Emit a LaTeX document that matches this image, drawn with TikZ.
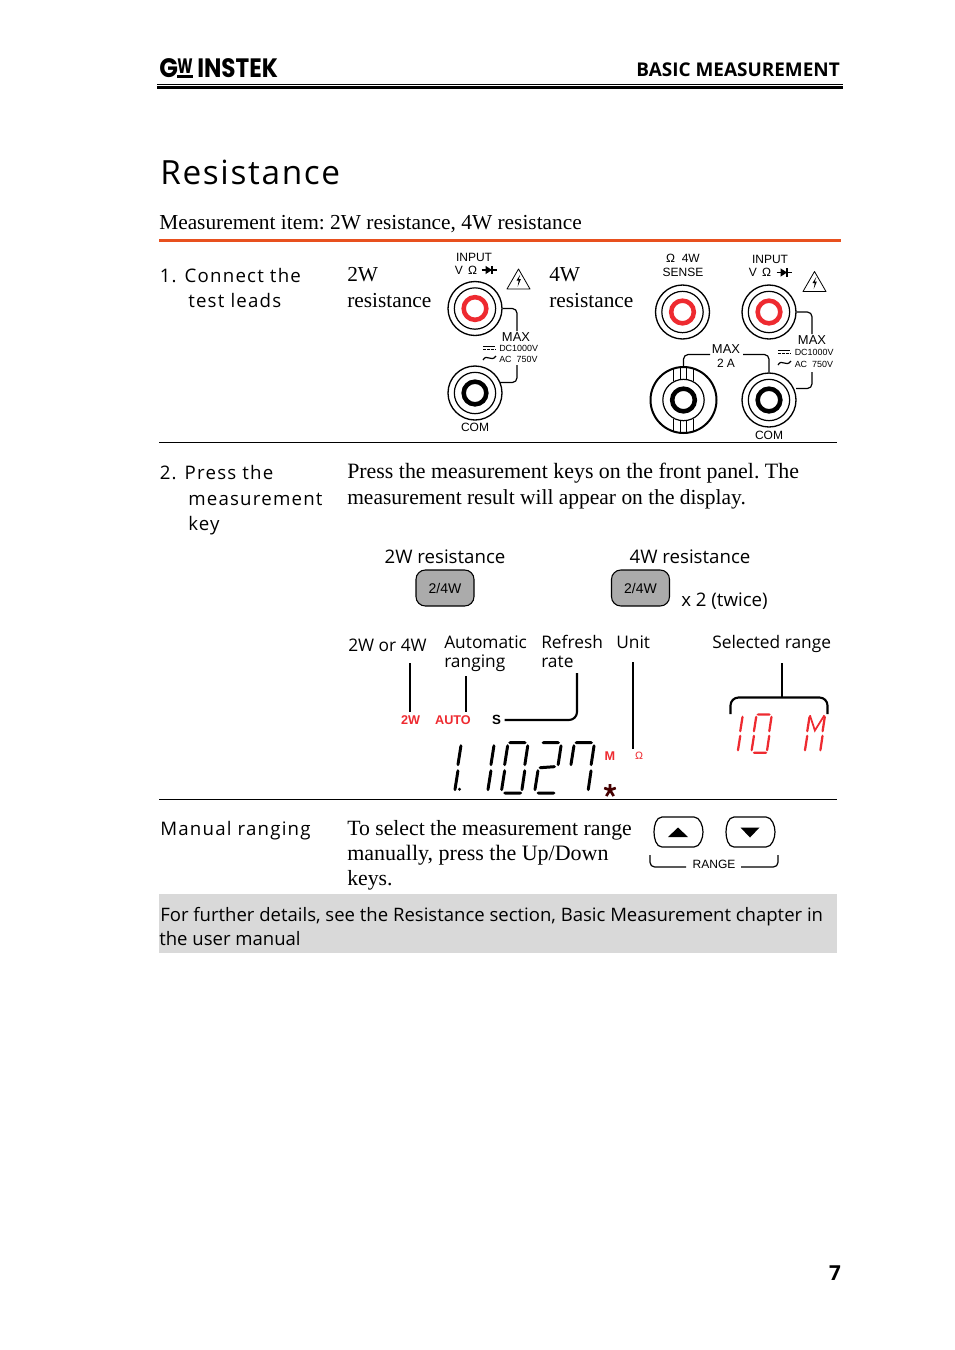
\documentclass[tikz,border=0pt]{standalone}
\usepackage{graphicx}
\usepackage{fontspec}
\setmainfont{Liberation Serif}
\newfontfamily\opn{Open Sans}
\newfontfamily\ari{Liberation Sans}
\newfontfamily\logofont{Poppins}
\usetikzlibrary{calc}
\definecolor{rule}{HTML}{E8501E}
\definecolor{termred}{HTML}{EE2A30}
\definecolor{lcdred}{HTML}{EE2A30}
\definecolor{keygrey}{HTML}{ABABAB}
\definecolor{band}{HTML}{D9D9D9}
\newcommand\vseg[4]{\fill[segfill] (#1,#2)--({#1+\segw},{#2+1.8})--({#3+\segw},{#4-1.8})--(#3,#4)--({#3-\segw},{#4-1.8})--({#1-\segw},{#2+1.8})--cycle;}
\newcommand\hseg[4]{\fill[segfill] (#1,#2)--({#1+1.8},{#2-\segw})--({#3-1.8},{#4-\segw})--(#3,#4)--({#3-1.8},{#4+\segw})--({#1+1.8},{#2+\segw})--cycle;}
\def\segw{1.5}
\newcommand\segA{\vseg{2.9}{-21.5}{0}{0.5}}
\newcommand\segB{\vseg{5.9}{-46.5}{3}{-24.5}}
\newcommand\segC{\hseg{6.5}{-48}{25}{-48}}
\newcommand\segD{\vseg{26}{-46.5}{23.2}{-24.5}}
\newcommand\segE{\vseg{23}{-21.5}{20.3}{0.5}}
\newcommand\segF{\hseg{1.5}{2.3}{20.5}{2.3}}
\newcommand\segG{\hseg{3.5}{-23}{21}{-24}}
\newcommand\warn[2]{\begin{scope}[shift={(#1,#2)}]
 \draw[line width=.6pt,line join=round] (0,-10.5)--(11.5,9.5)--(-11.5,9.5)--cycle;
 \fill (1.8,-5)--(-2,1)--(.2,1)--(-.8,7)--(2.4,-.5)--(.3,-.5)--cycle;
\end{scope}}
\newcommand\diode[2]{\begin{scope}[shift={(#1,#2)}]
 \draw[line width=.9pt] (-7.5,0)--(7.5,0) (3,-4.2)--(3,4.2);
 \fill (-3.5,-4.2)--(3,0)--(-3.5,4.2)--cycle;
\end{scope}}
\tikzset{
 x=.75pt,y=-.75pt,
 segfill/.style={fill=black},
 ser/.style={anchor=base west,inner sep=0pt,font=\frenchspacing\fontsize{#1}{18}\selectfont},
 ser/.default=16.3,
 hd/.style={anchor=base west,inner sep=0pt,font=\opn\fontsize{14}{18}\selectfont\addfontfeature{LetterSpace=6.5}},
 lab/.style={anchor=base west,inner sep=0pt,font=\opn\fontsize{13}{16}\selectfont},
 labb/.style={anchor=base west,inner sep=0pt,font=\opn\fontsize{14}{16}\selectfont},
 ar/.style={inner sep=0pt,font=\ari\fontsize{#1}{#1}\selectfont},
 ar/.default=9,
 term/.style={circle,draw,line width=1pt,minimum size=40.5pt,inner sep=0pt},
 termb/.style={circle,draw,line width=.9pt,minimum size=31pt,inner sep=0pt},
 termc/.style={circle,draw=#1,line width=3.4pt,minimum size=17pt,inner sep=0pt},
 wire/.style={line width=.9pt,rounded corners=3.5pt},
 call/.style={line width=1.6pt,rounded corners=6pt},
 key24/.style={draw,line width=.8pt,fill=keygrey,rounded corners=7pt,minimum width=43.5pt,minimum height=27pt,inner sep=0pt,font=\ari\fontsize{10.5}{12}\selectfont},
 annun/.style={inner sep=2.6pt,text=lcdred,font=\ari\bfseries\fontsize{9.5}{10}\selectfont},
}
\begin{document}
\begin{tikzpicture}
\useasboundingbox (0,0) rectangle (954,1350);
\fill[white] (0,0) rectangle (954,1350);

% header
\node[anchor=south west,inner sep=0pt] (logog) at (159,78) {\resizebox{14pt}{14.2pt}{\logofont\bfseries G}};
\node[anchor=south west,inner sep=0pt] (logow) at (177,74) {\resizebox{11.5pt}{11pt}{\logofont\bfseries W}};
\fill (177,75.2) rectangle (192.5,78);
\node[anchor=south west,inner sep=0pt] (logoi) at (197,78) {\resizebox{60.5pt}{14.2pt}{\logofont\bfseries INSTEK}};
\node[anchor=base east,inner sep=0pt,font=\opn\bfseries\fontsize{14.2}{18}\selectfont] (basic) at (840,76) {BASIC MEASUREMENT};
\draw[line width=.75pt] (157,84.8)--(843,84.8);
\draw[line width=1.9pt] (157,87.6)--(843,87.6);

\node[anchor=base west,inner sep=0pt,font=\opn\fontsize{25}{30}\selectfont\addfontfeature{LetterSpace=5}] (title) at (160,184.5) {Resistance};
\node[ser=16.03] (item) at (159,229) {Measurement item: 2W resistance, 4W resistance};
\draw[rule,line width=2pt] (159,240.5)--(841,240.5);

% step 1
\node[hd] (s1a) at (159.5,282) {1. Connect the};
\node[hd] (s1b) at (188,307) {test leads};
\node[ser=16] (r2a) at (347,281) {2W};
\node[ser=16] (r2b) at (347,307) {resistance};
\node[ser=16] (r4a) at (549,281) {4W};
\node[ser=16] (r4b) at (549,307) {resistance};

% 2W terminals
\node[ar=9] (in1) at (474,257.5) {INPUT};
\node[ar=9] (vo1) at (466,270) {V $\,$\char"03A9};
\diode{489}{270}
\warn{518.5}{279.5}
\node[term] (t1) at (475,308.5) {};
\node[termb] (t1b) at (475,308.5) {};
\node[termc=termred] (t1c) at (475,308.5) {};
\node[term] (t2) at (475,393) {};
\node[termb] (t2b) at (475,393) {};
\node[termc=black] (t2c) at (475,393) {};
\node[ar=9.7] (max1) at (516,337) {MAX};
\node[ar=6.7,anchor=west] (dc1) at (499,348) {DC1000V};
\node[ar=6.7,anchor=west] (ac1) at (499,359) {AC\ \ 750V};
\draw[line width=.7pt] (483,346)--(495,346);
\draw[line width=.7pt,dash pattern=on 2.2pt off .7pt] (483,349)--(495,349);
\draw[line width=.9pt] (483,360) .. controls (487,353) and (491,363) .. (496,356);
\node[ar=9] (com1) at (475,427.5) {COM};
\coordinate (w1a) at (517,331);
\coordinate (w1b) at (517,365);
\coordinate (w1c) at (517,382.5);
\coordinate (w1d) at (500,382.5);
\draw[wire] (t1.east) -| (w1a);
\draw[wire] (w1b) -- (w1c) -- (w1d);

% 4W terminals
\node[ar=9] (o4w) at (683,258) {\char"03A9\ \ 4W};
\node[ar=9] (sense) at (683,272) {SENSE};
\node[ar=9] (in2) at (770,259) {INPUT};
\node[ar=9] (vo2) at (760,272.5) {V $\,$\char"03A9};
\diode{784}{272.5}
\warn{814.5}{282}
\node[term] (t3) at (682.5,312) {};
\node[termb] (t3b) at (682.5,312) {};
\node[termc=termred] (t3c) at (682.5,312) {};
\node[term] (t4) at (769,312) {};
\node[termb] (t4b) at (769,312) {};
\node[termc=termred] (t4c) at (769,312) {};
\node[term] (t6) at (769,400) {};
\node[termb] (t6b) at (769,400) {};
\node[termc=black] (t6c) at (769,400) {};
\node[circle,draw,line width=1.5pt,minimum size=49.5pt,inner sep=0pt] (t5) at (683.5,400) {};
\node[termb] (t5b) at (683.5,400) {};
\node[termc=black] (t5c) at (683.5,400) {};
\foreach \dx/\dya/\dyb in {-10/-31.4/-19,-3.4/-32.8/-20.6,3.4/-32.8/-20.6,10/-31.4/-19,-10/31.4/19,-3.4/32.8/20.6,3.4/32.8/20.6,10/31.4/19}
  \draw[line width=.8pt] ($(t5.center)+(\dx,\dya)$)--($(t5.center)+(\dx,\dyb)$);
\node[ar=9.7] (max2) at (726,349) {MAX};
\node[ar=9] (two) at (726,363) {2 A};
\node[ar=9.7] (max3) at (812,340) {MAX};
\node[ar=6.7,anchor=west] (dc2) at (794.5,352) {DC1000V};
\node[ar=6.7,anchor=west] (ac2) at (794.5,364) {AC\ \ 750V};
\draw[line width=.7pt] (778,350)--(790,350);
\draw[line width=.7pt,dash pattern=on 2.2pt off .7pt] (778,353)--(790,353);
\draw[line width=.9pt] (778,365) .. controls (782,358) and (786,368) .. (791,361);
\node[ar=9] (com2) at (769,435) {COM};
\coordinate (w2a) at (683.5,354.5);
\coordinate (w2b) at (710,354.5);
\coordinate (w2c) at (743,354.5);
\coordinate (w2d) at (769,354.5);
\coordinate (w3a) at (812,334);
\coordinate (w3b) at (812,372);
\coordinate (w3c) at (812,388.5);
\coordinate (w3d) at (796,388.5);
\draw[wire] (t5.north) -- (w2a) -- (w2b);
\draw[wire] (w2c) -- (w2d) -- (t6.north);
\draw[wire] (t4.east) -| (w3a);
\draw[wire] (w3b) -- (w3c) -- (w3d);

\draw[line width=.6pt] (159,442.5)--(837,442.5);

% step 2
\node[hd] (s2a) at (159.5,479) {2. Press the};
\node[hd] (s2b) at (188,505) {measurement};
\node[hd] (s2c) at (188,530) {key};
\node[ser=16.42] (p1) at (347,478) {Press the measurement keys on the front panel. The};
\node[ser=16.1] (p2) at (347,504) {measurement result will appear on the display.};

\node[labb,anchor=base] (k2l) at (445,563) {2W resistance};
\node[labb,anchor=base] (k4l) at (690,563) {4W resistance};
\node[key24] (k2) at (445,588) {2/4W};
\node[key24] (k4) at (640.5,588) {2/4W};
\node[labb] (twice) at (681,606) {x 2 (twice)};

\node[lab] (l1) at (348,651) {2W or 4W};
\node[lab] (l2a) at (444,648) {Automatic};
\node[lab] (l2b) at (444,667) {ranging};
\node[lab] (l3a) at (541,648) {Refresh};
\node[lab] (l3b) at (541,667) {rate};
\node[lab] (l4) at (616,648) {Unit};
\node[lab] (l5) at (712,648) {Selected range};

\node[annun] (a2w) at (410.5,720) {2W};
\node[annun] (aauto) at (453,720) {AUTO};
\node[annun,text=black,font=\ari\bfseries\fontsize{10}{10}\selectfont] (as) at (496.5,720) {S};
\node[annun] (am) at (610,756) {M};
\node[inner sep=2.6pt,text=lcdred,font=\ari\fontsize{8}{9}\selectfont] (aohm) at (639,756) {\char"03A9};

\coordinate (c1) at (410,663);
\coordinate (c2) at (466,676);
\coordinate (c3) at (577,673);
\coordinate (c4) at (633,662);
\coordinate (c5) at (782,663);
\coordinate (b1) at (730.5,714);
\coordinate (b2) at (730.5,697.5);
\coordinate (b3) at (782,697.5);
\coordinate (b4) at (827.5,697.5);
\coordinate (b5) at (827.5,714);
\draw[call] (c1) -- (c1|-a2w.north);
\draw[call] (c2) -- (c2|-aauto.north);
\draw[call] (as.east) -| (c3);
\draw[call] (c4) -- (c4|-aohm.north);
\draw[call] (b1) -- (b2) -- (b4) -- (b5);
\draw[call] (c5) -- (b3);

% LCD digits
\begin{scope}[shift={(455,790.7)}]\segA\segB\fill (4.5,-1.5) circle (1.2pt);\end{scope}
\begin{scope}[shift={(488,790.7)}]\segA\segB\end{scope}
\begin{scope}[shift={(501.7,790.7)}]\segA\segB\segC\segD\segE\segF\end{scope}
\begin{scope}[shift={(535,790.7)}]\segA\segC\segD\segF\segG\end{scope}
\begin{scope}[shift={(568,790.7)}]\segB\segC\segD\segE\end{scope}
\draw[line width=2pt,color=black!55!red!60!black] (610,784)--(610,790) (604.2,788)--(610,790) (615.8,788)--(610,790) (606.3,796)--(610,790) (613.7,796)--(610,790);

% range value
\begin{scope}[shift={(738,751)},scale=.76,segfill/.style={fill=lcdred}]\segA\segB\end{scope}
\begin{scope}[shift={(751.7,751)},scale=.76,segfill/.style={fill=lcdred}]\segA\segB\segC\segD\segE\segF\end{scope}
\begin{scope}[shift={(805,751)},scale=.76,segfill/.style={fill=lcdred}]\segA\segB\segD\segE
 \draw[line width=1.3pt,draw=lcdred] (6.5,-47)--(13,-27)--(25.5,-47);\end{scope}

\draw[line width=.6pt] (159,799.5)--(837,799.5);

% manual ranging
\node[hd] (m1) at (160,835) {Manual ranging};
\node[ser] (m2) at (347,835) {To select the measurement range};
\node[ser=16.5] (m3) at (347,860) {manually, press the Up/Down};
\node[ser] (m4) at (347,885) {keys.};

\draw[line width=.9pt] (662,817) -- (694,817) .. controls (700,817) and (703,826) .. (703,832) .. controls (703,838) and (700,847) .. (694,847) -- (662,847) .. controls (656,847) and (654,838) .. (654,832) .. controls (654,826) and (656,817) .. (662,817) -- cycle;
\draw[line width=.9pt] (734,817) -- (766,817) .. controls (772,817) and (775,826) .. (775,832) .. controls (775,838) and (772,847) .. (766,847) -- (734,847) .. controls (728,847) and (726,838) .. (726,832) .. controls (726,826) and (728,817) .. (734,817) -- cycle;
\fill (668,837)--(678,827.5)--(688,837)--cycle;
\fill (740.5,827.5)--(759.5,827.5)--(750,837.5)--cycle;
\node[ar=9] (rng) at (714,864) {RANGE};
\coordinate (r1) at (650,855);
\coordinate (r2) at (650,867);
\coordinate (r3) at (686,867);
\coordinate (r4) at (741,867);
\coordinate (r5) at (778,867);
\coordinate (r6) at (778,855);
\draw[wire] (r1) -- (r2) -- (r3);
\draw[wire] (r4) -- (r5) -- (r6);

% note band
\fill[band] (159,894) rectangle (837,953);
\node[anchor=base west,inner sep=0pt,font=\opn\fontsize{13.9}{18}\selectfont] (n1) at (160,921) {For further details, see the Resistance section, Basic Measurement chapter in};
\node[anchor=base west,inner sep=0pt,font=\opn\fontsize{13.9}{18}\selectfont] (n2) at (159,945) {the user manual};

\node[anchor=base,inner sep=0pt,font=\opn\bfseries\fontsize{15.5}{18}\selectfont] (pg) at (835,1280) {7};
\end{tikzpicture}
\end{document}
